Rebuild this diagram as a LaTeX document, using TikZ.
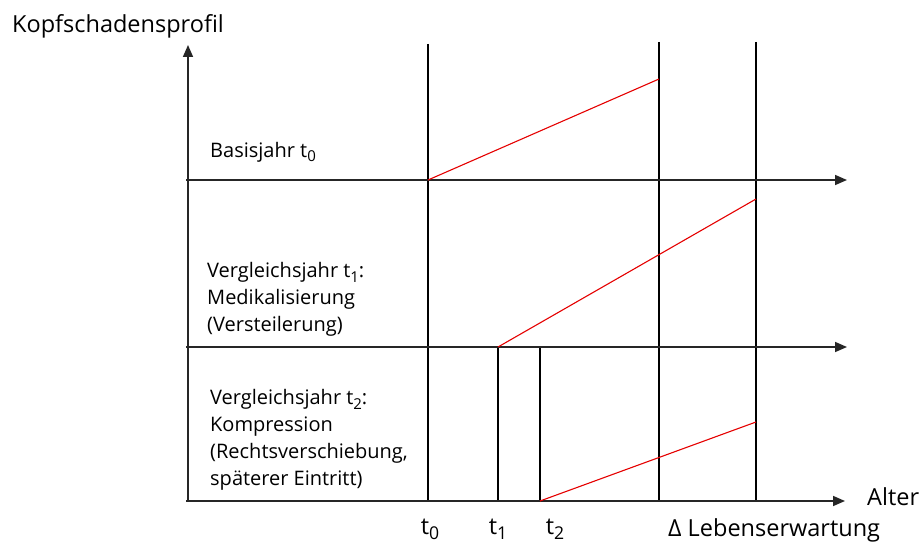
\documentclass[tikz,border=0pt]{standalone}
\usepackage{fontspec}
\setmainfont{Open Sans}
\usetikzlibrary{arrows.meta}
\newcommand\mysubs[1]{\raisebox{-0.22em}{\scalebox{0.75}{#1}}}
\tikzset{
  axisline/.style={line width=1.6pt, draw=black!85, -{Triangle[length=12pt,width=10pt]}},
  vline/.style={line width=1.3pt, draw=black},
  redline/.style={line width=1.1pt, draw=red!90!black},
  lbl/.style={anchor=base west, inner sep=0pt, font=\fontsize{20}{26.7}\selectfont, align=left},
  biglbl/.style={anchor=base west, inner sep=0pt, font=\fontsize{23.5}{28}\selectfont},
  tlbl/.style={anchor=base, inner sep=0pt, font=\fontsize{23.5}{28}\selectfont},
}
\begin{document}
\begin{tikzpicture}[x=1pt,y=-1pt]
\useasboundingbox (0,0) rectangle (921,543);
% axis coordinates
\coordinate (yb) at (188,501);
\coordinate (yt) at (188,45);
\coordinate (a1s) at (186,180);
\coordinate (a1e) at (847,180);
\coordinate (a2s) at (186,347);
\coordinate (a2e) at (847,347);
\coordinate (a3s) at (186,501);
\coordinate (a3e) at (845,501);
% vertical lines
\coordinate (v0t) at (428,44);  \coordinate (v0b) at (428,501);
\coordinate (vLt) at (659,42);  \coordinate (vLb) at (659,501);
\coordinate (vMt) at (756,42);  \coordinate (vMb) at (756,501);
\coordinate (v1t) at (498,347); \coordinate (v1b) at (498,501);
\coordinate (v2t) at (540,347); \coordinate (v2b) at (540,501);
% red lines
\coordinate (r1s) at (428,180); \coordinate (r1e) at (659,79);
\coordinate (r2s) at (498,347); \coordinate (r2e) at (756,199);
\coordinate (r3s) at (540,501); \coordinate (r3e) at (756,422);

\draw[vline] (v0t) -- (v0b);
\draw[vline] (vLt) -- (vLb);
\draw[vline] (vMt) -- (vMb);
\draw[vline] (v1t) -- (v1b);
\draw[vline] (v2t) -- (v2b);
\draw[axisline] (yb) -- (yt);
\draw[axisline] (a1s) -- (a1e);
\draw[axisline] (a2s) -- (a2e);
\draw[axisline] (a3s) -- (a3e);
\draw[redline] (r1s) -- (r1e);
\draw[redline] (r2s) -- (r2e);
\draw[redline] (r3s) -- (r3e);

\node[biglbl] (title) at (12,33) {Kopfschadensprofil};
\node[lbl] (basis) at (210,157) {Basisjahr t\mysubs{0}};
\node[lbl] (vj1) at (207,331) {Vergleichsjahr t\mysubs{1}:\\Medikalisierung\\(Versteilerung)};
\node[lbl] (vj2) at (210,485) {Vergleichsjahr t\mysubs{2}:\\Kompression\\(Rechtsverschiebung,\\späterer Eintritt)};
\node[biglbl] (alter) at (867,505) {Alter};
\node[tlbl] (t0) at (430,534) {t\mysubs{0}};
\node[tlbl] (t1) at (498,534) {t\mysubs{1}};
\node[tlbl] (t2) at (555,534) {t\mysubs{2}};
\node[biglbl] (le) at (668,536) {Δ Lebenserwartung};
\end{tikzpicture}
\end{document}
